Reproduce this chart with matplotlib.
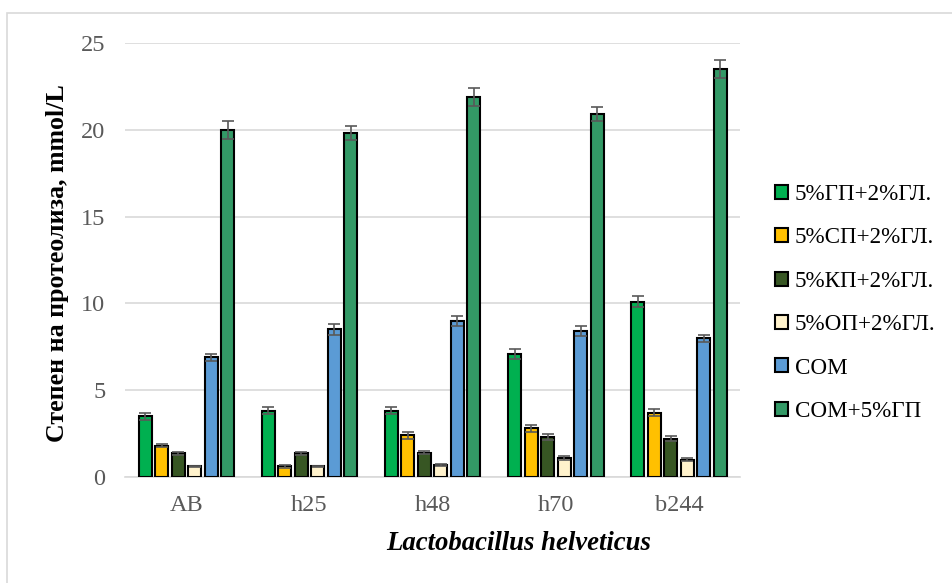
import matplotlib
matplotlib.use("Agg")
import matplotlib.pyplot as plt
import numpy as np
from matplotlib.patches import Rectangle

categories = ["AB", "h25", "h48", "h70", "b244"]
series_names = ["5%ГП+2%ГЛ.", "5%СП+2%ГЛ.", "5%КП+2%ГЛ.", "5%ОП+2%ГЛ.", "СОМ", "СОМ+5%ГП"]
gp = [3.5, 3.8, 3.8, 7.1, 10.1]
sp = [1.8, 0.6, 2.4, 2.8, 3.7]
kp = [1.35, 1.35, 1.4, 2.3, 2.2]
op = [0.6, 0.6, 0.7, 1.1, 1.0]
com = [6.9, 8.5, 9.0, 8.4, 8.0]
com_gp = [20.0, 19.8, 21.9, 20.9, 23.5]
err_gp = [0.2, 0.2, 0.2, 0.3, 0.3]
err_sp = [0.1, 0.1, 0.2, 0.2, 0.2]
err_kp = [0.1, 0.1, 0.1, 0.15, 0.15]
err_op = [0.05, 0.05, 0.05, 0.1, 0.1]
err_com = [0.2, 0.3, 0.3, 0.3, 0.2]
err_com_gp = [0.5, 0.4, 0.5, 0.4, 0.5]

values = [gp, sp, kp, op, com, com_gp]
errors = [err_gp, err_sp, err_kp, err_op, err_com, err_com_gp]
colors = ["#00B050", "#FFC000", "#375623", "#FFF2CC", "#5B9BD5", "#339966"]

plt.rcParams['font.family'] = ['Liberation Serif', 'DejaVu Serif']

W, H = 953, 583
fig = plt.figure(figsize=(W / 100, H / 100), dpi=100)
fig.patches.append(Rectangle((7 / W, -0.01), 1.0, 0.987, transform=fig.transFigure,
                             fill=False, edgecolor="#D9D9D9", linewidth=1.2))
ax = fig.add_axes([0.131, 0.182, 0.646, 0.744])

x = np.arange(len(categories))
step = 0.134
width = 0.105
for i, (vals, errs, c, name) in enumerate(zip(values, errors, colors, series_names)):
    pos = x + (i - 2.5) * step
    ax.bar(pos, vals, width=width, color=c, edgecolor="black", linewidth=1.5,
           label=name, zorder=3)
    ax.errorbar(pos, vals, yerr=errs, fmt="none", ecolor="#595959",
                elinewidth=1.2, capsize=4, capthick=1.2, zorder=4)

ax.set_xlim(-0.5, len(categories) - 0.5)
ax.set_ylim(0, 25)
ax.set_yticks([0, 5, 10, 15, 20, 25])
ax.set_xticks(x)
ax.set_xticklabels(categories)
ax.yaxis.grid(True, color="#D9D9D9", linewidth=1.2, zorder=0)
ax.set_axisbelow(True)
for s in ["top", "right", "left"]:
    ax.spines[s].set_visible(False)
ax.spines["bottom"].set_color("#D9D9D9")
ax.spines["bottom"].set_linewidth(1.2)
ax.tick_params(axis="both", length=0, labelsize=17.5, labelcolor="#595959")
ax.tick_params(axis="y", pad=14)
ax.tick_params(axis="x", pad=13)

fig.text(58 / W, 1 - 263 / H, "Степен на протеолиза, mmol/L", fontsize=18.6,
         fontweight="bold", rotation=90, ha="center", va="center")
fig.text(519 / W, 1 - 543 / H, "Lactobacillus helveticus", fontsize=19.3,
         fontweight="bold", style="italic", ha="center", va="center")

leg = fig.legend(loc="center left", bbox_to_anchor=(775 / W, 1 - 303 / H), frameon=False,
                 fontsize=16.6, handlelength=0.57, handleheight=0.57, handletextpad=0.3,
                 labelspacing=0.97, borderpad=0, borderaxespad=0)
for h in leg.legend_handles:
    h.set_linewidth(1.5)

fig.savefig("out.png", dpi=100)
